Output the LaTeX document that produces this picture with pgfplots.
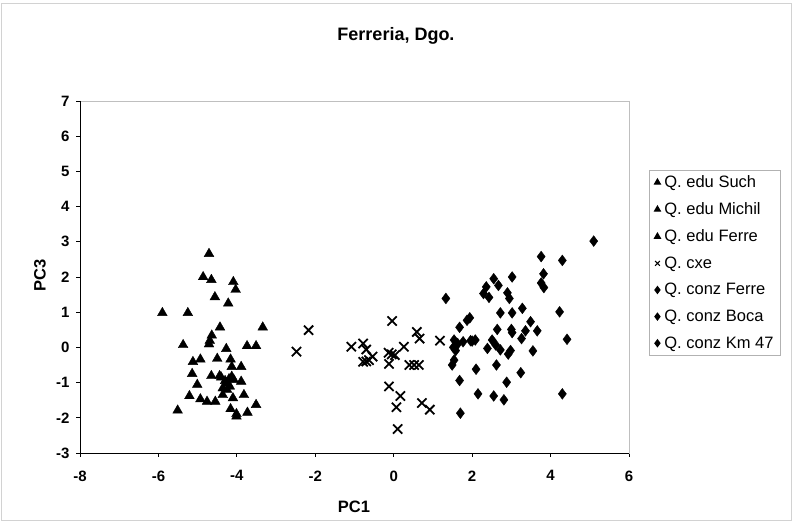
\documentclass[border=0pt]{standalone}
\usepackage{pgfplots}
\pgfplotsset{compat=1.18}
\usepackage{fontspec}
\setmainfont{Liberation Sans}
\begin{document}
\begin{tikzpicture}
\useasboundingbox (0,0) rectangle (793pt,522pt);
\draw[gray!35, line width=1pt] (1.5pt,1.5pt) rectangle (791.5pt,518.5pt);
\node[font=\fontsize{18}{21}\selectfont\bfseries, anchor=base] at (396pt,481pt) {Ferreria, Dgo.};
\node[font=\fontsize{16.5}{19}\selectfont\bfseries, anchor=base] at (354pt,9pt) {PC1};
\node[font=\fontsize{16.5}{19}\selectfont\bfseries, rotate=90] at (40pt,247pt) {PC3};
\begin{axis}[at={(80pt,69pt)}, anchor=south west, scale only axis,
  width=549pt, height=352pt,
  xmin=-8, xmax=6, ymin=-3, ymax=7,
  xtick={-8,-6,-4,-2,0,2,4,6}, ytick={-3,-2,-1,0,1,2,3,4,5,6,7},
  axis line style={gray!50, line width=0.8pt},
  tick align=outside, xtick pos=left, ytick pos=left,
  major tick length=4pt, tick style={black, line width=0.8pt},
  /pgf/number format/assume math mode=true,
  ticklabel style={font=\fontsize{15}{17}\selectfont\bfseries},
  xticklabel style={yshift=-10pt},
  yticklabel style={xshift=-3pt},
  legend style={at={(1.037,0.804)}, anchor=north west, draw=gray!60,
    font=\fontsize{16.5}{19}\selectfont, row sep=9.6pt, inner ysep=3.5pt, inner xsep=5pt,
    column sep=2pt},
  legend cell align=left,
  legend image post style={mark size=3.4pt, line width=1.1pt},
  clip=false]
\addplot[only marks, mark=triangle*, mark size=5.6pt, black] table {
x y
-4.71 2.66
-4.86 2.00
-4.65 1.92
-4.09 1.86
-4.03 1.64
-5.90 0.98
-4.43 0.57
-4.69 0.19
-4.50 -0.32
-4.65 -0.81
-4.27 -1.02
-5.21 -1.38
-4.76 -1.54
-4.16 -1.75
-4.01 -1.96
-4.30 -0.95
};
\addlegendentry{Q. edu Such}
\addplot[only marks, mark=triangle*, mark size=5.6pt, black] table {
x y
-4.56 1.43
-4.22 1.25
-5.25 0.98
-4.64 0.34
-5.37 0.07
-4.27 -0.04
-4.93 -0.34
-4.16 -0.34
-3.89 -0.55
-4.44 -0.81
-3.89 -0.97
-4.36 -1.16
-4.93 -1.47
-4.36 -1.35
-3.82 -1.35
-3.73 -1.85
-4.20 -0.90
};
\addlegendentry{Q. edu Michil}
\addplot[only marks, mark=triangle*, mark size=5.6pt, black] table {
x y
-3.34 0.57
-4.71 0.09
-3.74 0.04
-3.51 0.04
-5.12 -0.41
-4.13 -0.55
-5.14 -0.75
-4.13 -0.83
-5.01 -1.06
-4.18 -1.11
-4.08 -0.92
-4.55 -1.54
-4.10 -1.44
-3.51 -1.63
-5.51 -1.79
-4.01 -1.89
-4.25 -1.20
-4.40 -0.85
};
\addlegendentry{Q. edu Ferre}
\addplot[only marks, mark=x, mark size=6.5pt, black, line width=1.8pt] table {
x y
-2.48 -0.12
-2.17 0.49
-1.08 0.02
-0.78 0.11
-0.70 -0.06
-0.54 -0.26
-0.78 -0.41
-0.63 -0.36
-0.70 -0.40
-0.04 0.75
-0.13 -0.15
0.03 -0.22
0.26 0.02
-0.12 -0.47
-0.05 -0.20
0.40 -0.50
0.64 -0.50
0.52 -0.50
0.59 0.44
0.66 0.25
-0.12 -1.11
0.17 -1.38
0.07 -1.70
0.10 -2.32
0.72 -1.58
0.92 -1.77
1.18 0.19
};
\addlegendentry{Q. cxe}
\addplot[only marks, mark=diamond*, mark size=5.4pt, black] table {
x y
5.10 3.02
3.76 2.58
4.30 2.47
3.82 2.09
3.02 2.00
2.55 1.95
2.36 1.72
1.33 1.39
1.94 0.84
2.72 0.98
4.23 1.01
3.36 0.47
1.68 0.57
1.54 0.21
1.52 0.00
2.51 0.21
2.98 -0.09
1.54 -0.36
2.10 -0.62
1.68 -0.94
2.15 -1.32
4.30 -1.32
1.70 -1.87
};
\addlegendentry{Q. conz Ferre}
\addplot[only marks, mark=diamond*, mark size=5.4pt, black] table {
x y
3.76 1.83
3.83 1.70
2.67 1.76
2.29 1.53
2.90 1.55
1.87 0.77
3.02 0.98
3.49 0.73
3.00 0.51
2.64 0.51
4.42 0.23
1.63 0.11
1.77 0.16
2.60 0.07
2.39 -0.03
3.55 -0.10
2.62 -0.50
2.88 -0.99
2.55 -1.38
};
\addlegendentry{Q. conz Boca}
\addplot[only marks, mark=diamond*, mark size=5.4pt, black] table {
x y
2.43 1.42
2.95 1.39
3.28 1.11
3.66 0.47
3.02 0.42
3.26 0.25
1.58 -0.09
1.96 0.19
2.08 0.21
2.72 -0.07
2.92 -0.19
1.49 -0.50
3.24 -0.72
2.81 -1.49
2.00 0.18
1.60 0.05
};
\addlegendentry{Q. conz Km 47}
\draw[black, line width=0.9pt] (rel axis cs:0,1) -- (rel axis cs:0,0) -- (rel axis cs:1,0);
\end{axis}
\end{tikzpicture}
\end{document}
